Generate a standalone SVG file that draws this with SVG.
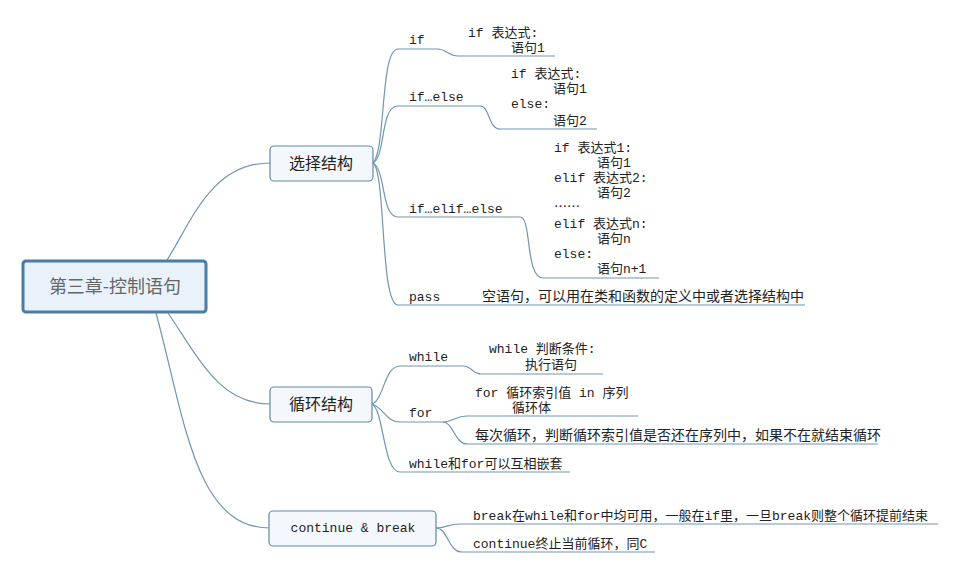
<svg xmlns="http://www.w3.org/2000/svg" width="959" height="573" viewBox="0 0 959 573">
<style>
.bg{fill:#ffffff}
.ln{fill:none;stroke:#7195b3;stroke-width:1.2}
.root{fill:#e9f2fb;stroke:#4a7da6;stroke-width:3}
.main{fill:#f4f8fc;stroke:#6189a8;stroke-width:1.2}
.rt{font-family:"Noto Sans CJK SC",sans-serif;font-size:18px;fill:#666;text-anchor:middle}
.mt{font-family:"Noto Sans CJK SC",sans-serif;font-size:16px;fill:#222;text-anchor:middle}
.mono{font-family:"Liberation Mono","Noto Sans CJK SC",monospace;font-size:13px;fill:#222}
.cn{font-family:"Liberation Mono","Noto Sans CJK SC",monospace;font-size:14px;fill:#222}
.ell{font-family:"Noto Sans CJK SC",sans-serif;font-size:13px;fill:#222}
</style>
<rect class="bg" x="0" y="0" width="959" height="573"/>
<g id="connectors">
<path class="ln" d="M167,260 C190,225 210,163 270,163"/>
<path class="ln" d="M168,313 C200,360 220,404 270,404"/>
<path class="ln" d="M156,313 C185,420 195,528 270,528"/>
<path class="ln" d="M373,163 C386,150 380,49 398,49 L437,49 C447,49 448,56 458,56 L555,56"/>
<path class="ln" d="M373,163 C386,156 380,106 398,106 L480,106 C490,106 488,129 500,129 L597,129"/>
<path class="ln" d="M373,163 C386,170 381,217 398,217 L520,217 C532,217 525,278 543,278 L659,278"/>
<path class="ln" d="M373,163 C386,172 380,305 398,305 L805,305"/>
<path class="ln" d="M372,404 C384,400 384,366 400,366 L463,366 C472,366 472,374 481,374 L603,374"/>
<path class="ln" d="M372,404 C384,408 386,422 400,422 L443,422 C453,422 455,416 467,416 L638,416"/>
<path class="ln" d="M443,422 C453,422 455,444 467,444 L878,444"/>
<path class="ln" d="M372,404 C384,410 383,472 400,472 L570,472"/>
<path class="ln" d="M436,528 C446,528 448,524 460,524 L938,524"/>
<path class="ln" d="M436,528 C448,528 448,552 462,552 L655,552"/>
</g>
<g id="root">
<rect class="root" x="23" y="261" width="183" height="51" rx="3"/>
<text class="rt" x="115" y="293">第三章-控制语句</text>
</g>
<g id="select">
<rect class="main" x="270" y="146" width="103" height="35" rx="4"/>
<text class="mt" x="321" y="169">选择结构</text>
</g>
<g id="loop">
<rect class="main" x="270" y="387" width="102" height="35" rx="4"/>
<text class="mt" x="321" y="410">循环结构</text>
</g>
<g id="cb">
<rect class="main" x="269" y="511" width="167" height="35" rx="4"/>
<text class="mono" x="353" y="532" text-anchor="middle">continue &amp; break</text>
</g>
<g id="if">
<text class="mono" x="409" y="44">if</text>
<text class="mono" x="468" y="37">if 表达式:</text>
<text class="mono" x="511" y="52">语句1</text>
</g>
<g id="ifelse">
<text class="mono" x="409" y="101">if…else</text>
<text class="mono" x="511" y="78">if 表达式:</text>
<text class="mono" x="553" y="93">语句1</text>
<text class="mono" x="511" y="108">else:</text>
<text class="mono" x="553" y="125">语句2</text>
</g>
<g id="ifelif">
<text class="mono" x="409" y="213">if…elif…else</text>
<text class="mono" x="554" y="152">if 表达式1:</text>
<text class="mono" x="597" y="167">语句1</text>
<text class="mono" x="554" y="182">elif 表达式2:</text>
<text class="mono" x="597" y="197">语句2</text>
<text class="ell" x="554" y="211">……</text>
<text class="mono" x="554" y="228">elif 表达式n:</text>
<text class="mono" x="597" y="243">语句n</text>
<text class="mono" x="554" y="258">else:</text>
<text class="mono" x="597" y="273">语句n+1</text>
</g>
<g id="pass">
<text class="mono" x="409" y="301">pass</text>
<text class="cn" x="482" y="301">空语句，可以用在类和函数的定义中或者选择结构中</text>
</g>
<g id="while">
<text class="mono" x="409" y="361">while</text>
<text class="mono" x="489" y="353">while 判断条件:</text>
<text class="mono" x="525" y="369">执行语句</text>
</g>
<g id="for">
<text class="mono" x="409" y="417">for</text>
<text class="mono" x="475" y="397">for 循环索引值 in 序列</text>
<text class="mono" x="512" y="412">循环体</text>
<text class="cn" x="475" y="440">每次循环，判断循环索引值是否还在序列中，如果不在就结束循环</text>
</g>
<g id="nest">
<text class="mono" x="409" y="468">while和for可以互相嵌套</text>
</g>
<g id="break">
<text class="mono" x="473" y="520">break在while和for中均可用，一般在if里，一旦break则整个循环提前结束</text>
</g>
<g id="continue">
<text class="mono" x="473" y="548">continue终止当前循环，同C</text>
</g>
</svg>
